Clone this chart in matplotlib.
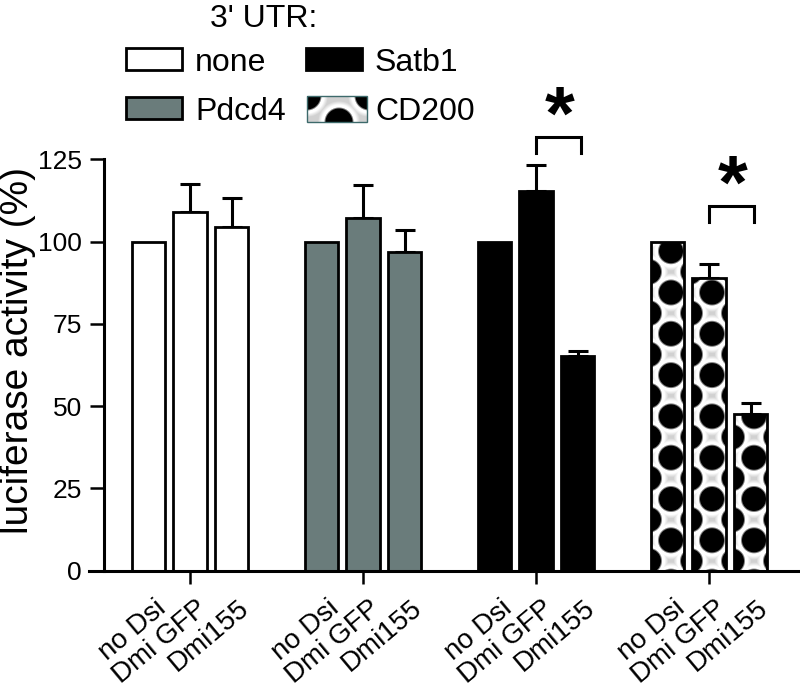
import numpy as np
import matplotlib
matplotlib.use("Agg")
import matplotlib.pyplot as plt
from matplotlib.patches import Rectangle
from matplotlib.transforms import Affine2D, ScaledTranslation, blended_transform_factory

plt.rcParams['font.family'] = ['Liberation Sans', 'DejaVu Sans']

# --- data ---
utrs = ['none', 'Pdcd4', 'Satb1', 'CD200']
conditions = ['no Dsi', 'Dmi GFP', 'Dmi155']
none_vals = [100, 109.0, 104.4]
pdcd4_vals = [100, 107.2, 96.8]
satb1_vals = [100, 115.5, 65.3]
cd200_vals = [100, 89.1, 47.6]
none_err = [0, 8.6, 8.9]
pdcd4_err = [0, 10.0, 6.8]
satb1_err = [0, 7.9, 1.4]
cd200_err = [0, 4.1, 3.2]
# significance brackets: group index and bracket height
sig_groups = [2, 3]
sig_height = [131.8, 110.9]

values = np.array([none_vals, pdcd4_vals, satb1_vals, cd200_vals])
errors = np.array([none_err, pdcd4_err, satb1_err, cd200_err])

faces = ['white', '#6a7c7b', 'black', 'pattern']
offsets = np.array([-1, 0, 1]) * 0.24
bar_w = 0.195
LW = 2.0

W, H = 800, 690
fig = plt.figure(figsize=(W / 100, H / 100), dpi=100)
ax = fig.add_axes([104 / W, 1 - 570.5 / H, 1 - 104 / W, (570.5 - 159.5) / H])
xmin, xmax = -0.497, 3.526
ax.set_xlim(xmin, xmax)
ax.set_ylim(0, 125)

# pixel transform (origin top-left) for legend placement
px = Affine2D().scale(1 / W, -1 / H).translate(0, 1) + fig.transFigure


def dot_pattern(w, h, dots, radius, bg=0.82):
    """greyscale dot tile; dots = list of (x0, y0, period_x, period_y)"""
    X, Y = np.meshgrid(np.arange(w) + 0.5, np.arange(h) + 0.5)
    d = np.full(X.shape, 1e9)
    for x0, y0, pxx, pyy in dots:
        dx = X - x0 if pxx is None else ((X - x0) + pxx / 2) % pxx - pxx / 2
        dy = ((Y - y0) + pyy / 2) % pyy - pyy / 2
        d = np.minimum(d, np.hypot(dx, dy))
    v = np.clip((d - radius) / 2.0, 0, 1)
    v = v - (1 - bg) * np.clip((d - radius - 4) / 4, 0, 1)
    return v


for g, utr in enumerate(utrs):
    xs = g + offsets
    if faces[g] == 'pattern':
        bars = ax.bar(xs, values[g], width=bar_w, color='white', edgecolor='none', zorder=2)
        sx = ax.transData.get_matrix()[0, 0]
        sy = ax.transData.get_matrix()[1, 1]
        for rect, x in zip(bars, xs):
            wpx = int(round(bar_w * sx))
            hpx = max(int(round(rect.get_height() * sy)), 1)
            cx = wpx / 2
            tile = dot_pattern(wpx, hpx,
                               [(cx + 3, 29.7, None, 41.3),
                                (cx - 19, 29.7 + 20.65, None, 41.3),
                                (cx + 25, 29.7 + 20.65, None, 41.3)],
                               radius=11.5)
            im = ax.imshow(tile, cmap='gray', vmin=0, vmax=1, origin='lower',
                           extent=(x - bar_w / 2, x + bar_w / 2, 0, rect.get_height()),
                           aspect='auto', interpolation='bilinear', zorder=2.1)
            im.set_clip_path(rect)
        ax.bar(xs, values[g], width=bar_w, fill=False, edgecolor='black', linewidth=LW, zorder=2.2)
    else:
        ax.bar(xs, values[g], width=bar_w, color=faces[g], edgecolor='black', linewidth=LW, zorder=2)
    has_err = errors[g] > 0
    ax.errorbar(xs[has_err], values[g][has_err],
                yerr=[np.zeros(has_err.sum()), errors[g][has_err]],
                fmt='none', ecolor='black', elinewidth=2.2, capsize=7.5, capthick=2.2, zorder=1)

ax.set_xlim(xmin, xmax)
ax.set_ylim(0, 125)

# significance brackets and stars
for g, hb in zip(sig_groups, sig_height):
    x0, x1 = g + 0.0, g + 0.26
    ax.plot([x0, x0, x1, x1], [hb - 4.8, hb, hb, hb - 4.8], color='black', lw=2.2,
            clip_on=False, solid_joinstyle='miter')
    ax.text((x0 + x1) / 2 + 0.005, hb + 5.5, '*', ha='center', va='center',
            fontsize=55, fontweight='bold', clip_on=False)

# axes styling
for s in ['top', 'right']:
    ax.spines[s].set_visible(False)
ax.spines['left'].set_linewidth(2.2)
ax.spines['bottom'].set_linewidth(2.2)
ax.spines['bottom'].set_bounds(xmin - 15 / 173, xmax)
ax.set_yticks([0, 25, 50, 75, 100, 125])
ax.tick_params(axis='y', labelsize=19, length=10, width=1.8, pad=6, direction='out')
ax.set_xticks(range(len(utrs)))
ax.set_xticklabels([])
ax.tick_params(axis='x', length=9.5, width=1.8, direction='out')

ax.set_ylabel('luciferase activity (%)', fontsize=28)
ax.yaxis.set_label_coords(-0.098, 0.535)

lab_tr = blended_transform_factory(ax.transData, ax.transAxes) + \
    ScaledTranslation(6 / 100, -25 / 100, fig.dpi_scale_trans)
for g in range(len(utrs)):
    for i, cond in enumerate(conditions):
        ax.text(g + offsets[i], 0, cond, transform=lab_tr, rotation=40, ha='right',
                va='top', rotation_mode='anchor', fontsize=20, clip_on=False)

# legend drawn by hand
fig.text(210, 27, "3' UTR:", transform=px, fontsize=23, va='baseline')
legend_items = [('none', 125, 47, 'white'), ('Satb1', 305, 47, 'black'),
                ('Pdcd4', 125, 96, '#6a7c7b'), ('CD200', 307, 96, 'pattern')]
for label, lx, ly, fc in legend_items:
    if fc == 'pattern':
        tile = dot_pattern(60, 26, [(32, 0, None, 1000), (0, 26, 62, 1000)], radius=13)
        fig.figimage(tile, xo=lx, yo=H - ly - 26, cmap='gray', vmin=0, vmax=1, origin='lower')
        fig.add_artist(Rectangle((lx, ly), 60, 26, transform=px, fill=False,
                                 edgecolor='#3d6a6b', linewidth=1))
        tx = lx + 68
    else:
        fig.add_artist(Rectangle((lx + 1.4, ly + 1.4), 55.2, 21.2, transform=px,
                                 facecolor=fc, edgecolor='black', linewidth=LW))
        tx = lx + 70
    fig.text(tx, ly + 24, label, transform=px, fontsize=23, va='baseline')

fig.savefig('out.png', dpi=100)
